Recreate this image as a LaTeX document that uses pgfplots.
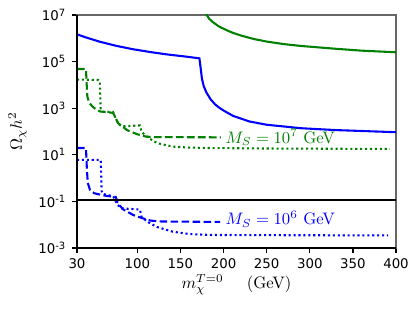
\documentclass[border=0pt]{standalone}
\usepackage{fontspec}
\usepackage{pgfplots}
\pgfplotsset{compat=1.18}
\newfontfamily\tickfont{DejaVu Sans}
\definecolor{mplgreen}{RGB}{0,128,0}
\definecolor{mplblue}{RGB}{0,0,255}
\begin{document}
\begin{tikzpicture}
\begin{axis}[
  scale only axis,
  width=191.4pt, height=139.8pt,
  xmin=30, xmax=400,
  ymode=log, ymin=1e-3, ymax=1e7,
  xtick={30,100,150,200,250,300,350,400},
  xticklabels={30,100,150,200,250,300,350,400},
  ytick={1e-3,1e-1,1e1,1e3,1e5,1e7},
  yticklabels={10\textsuperscript{-3},10\textsuperscript{-1},10\textsuperscript{1},10\textsuperscript{3},10\textsuperscript{5},10\textsuperscript{7}},
  minor tick num=0,
  log ticks with fixed point=false,
  yminorticks=false,
  tick pos=left,
  tick align=outside,
  major tick length=3pt,
  every tick/.style={black, line width=0.8pt},
  ticklabel style={font=\tickfont\fontsize{8}{9}\selectfont},
  axis line style={black!60, line width=1pt},
  xlabel={$m_\chi^{T=0}$\hspace{14pt}(GeV)},
  ylabel={$\Omega_\chi h^2$},
  every axis x label/.style={at={([yshift=-22pt]axis description cs:0.5,0)}, anchor=center, inner sep=0pt},
  every axis y label/.style={at={([xshift=-35.7pt]axis description cs:0,0.5)}, anchor=center, rotate=90},
  clip=true,
]
% blue solid
\addplot[mplblue, line width=1.25pt] coordinates {
(30,1.48e6) (40,1.10e6) (56.7,7.08e5) (75,4.79e5) (95,3.39e5) (115,2.57e5)
(134,2.04e5) (155,1.66e5) (172,1.38e5) (173.5,5.01e4) (175,1.78e4) (177,8.91e3)
(180,4.79e3) (185,2.40e3) (190,1.48e3) (195,1.05e3) (200,7.94e2) (211,4.68e2)
(230,2.69e2) (250,1.95e2) (290,1.38e2) (330,1.15e2) (400,93.3)
};
% green solid
\addplot[mplgreen, line width=1.25pt] coordinates {
(179.5,1.3e7) (180.5,1.0e7) (183,7.08e6) (188,4.79e6) (195,3.16e6) (204,2.19e6)
(211,1.70e6) (220,1.32e6) (235,9.33e5) (250,7.24e5) (270,5.62e5) (290,4.68e5)
(330,3.55e5) (360,2.95e5) (400,2.51e5)
};
% green dashed
\addplot[mplgreen, line width=1.25pt, dash pattern=on 4.6pt off 2pt] coordinates {
(30,4.79e4) (40.4,4.79e4) (41,1.58e4) (42,3.16e3) (44,1.78e3) (47.4,1.23e3)
(52,8.91e2) (56.7,7.24e2) (71.8,6.31e2) (74,4.47e2) (77.6,2.29e2) (88,1.15e2)
(100,75.9) (110,60.3) (120,57.5) (197,56.2)
};
% green dotted
\addplot[mplgreen, line width=1.25pt, dash pattern=on 1.25pt off 1.7pt] coordinates {
(30,1.70e4) (54.5,1.62e4) (56.5,1.41e4) (57,3.16e3) (57.5,8.91e2) (60,7.08e2)
(71.8,6.92e2) (75,3.55e2) (78,2.14e2) (82,1.66e2) (103,1.82e2) (105,95.5)
(113,52.5) (123,31.6) (141,22.4) (160,20.4) (184,19.5) (250,18.6) (393,17.8)
};
% blue dashed
\addplot[mplblue, line width=1.25pt, dash pattern=on 4.6pt off 2pt] coordinates {
(30,19.5) (40.4,19.5) (41,6.31) (41.5,2.24) (42.5,0.631) (45,0.316) (50,0.224)
(58,0.191) (65,0.170) (75,0.155) (77,0.0891) (83,0.0468) (95,0.0263)
(105,0.0195) (115,0.0151) (125,0.0138) (150,0.0135) (196,0.0132)
};
% blue dotted
\addplot[mplblue, line width=1.25pt, dash pattern=on 1.25pt off 1.7pt] coordinates {
(30,6.03) (57.5,6.03) (58,2.0) (58.5,0.282) (60,0.209) (72,0.166) (77,0.0708)
(82,0.0501) (103,0.0447) (105,0.0209) (113,0.0126) (123,0.00794) (141,0.00501)
(160,0.00398) (184,0.00363) (250,0.00355) (391,0.00347)
};
% relic density line
\addplot[black, line width=1.25pt] coordinates {(30,0.11) (400,0.11)};
\node[mplgreen, anchor=base west, inner sep=0pt] at (axis cs:202,32) {$M_S=10^7$ GeV};
\node[mplblue, anchor=base west, inner sep=0pt] at (axis cs:202,0.0098) {$M_S=10^6$ GeV};
\end{axis}
\draw[black, line width=1pt] (current axis.north west) -- (current axis.south west) -- (current axis.south east);
\path (current axis.south west) ++(-46.2pt,-37.8pt) rectangle ++(252pt,186.6pt);
\end{tikzpicture}
\end{document}
